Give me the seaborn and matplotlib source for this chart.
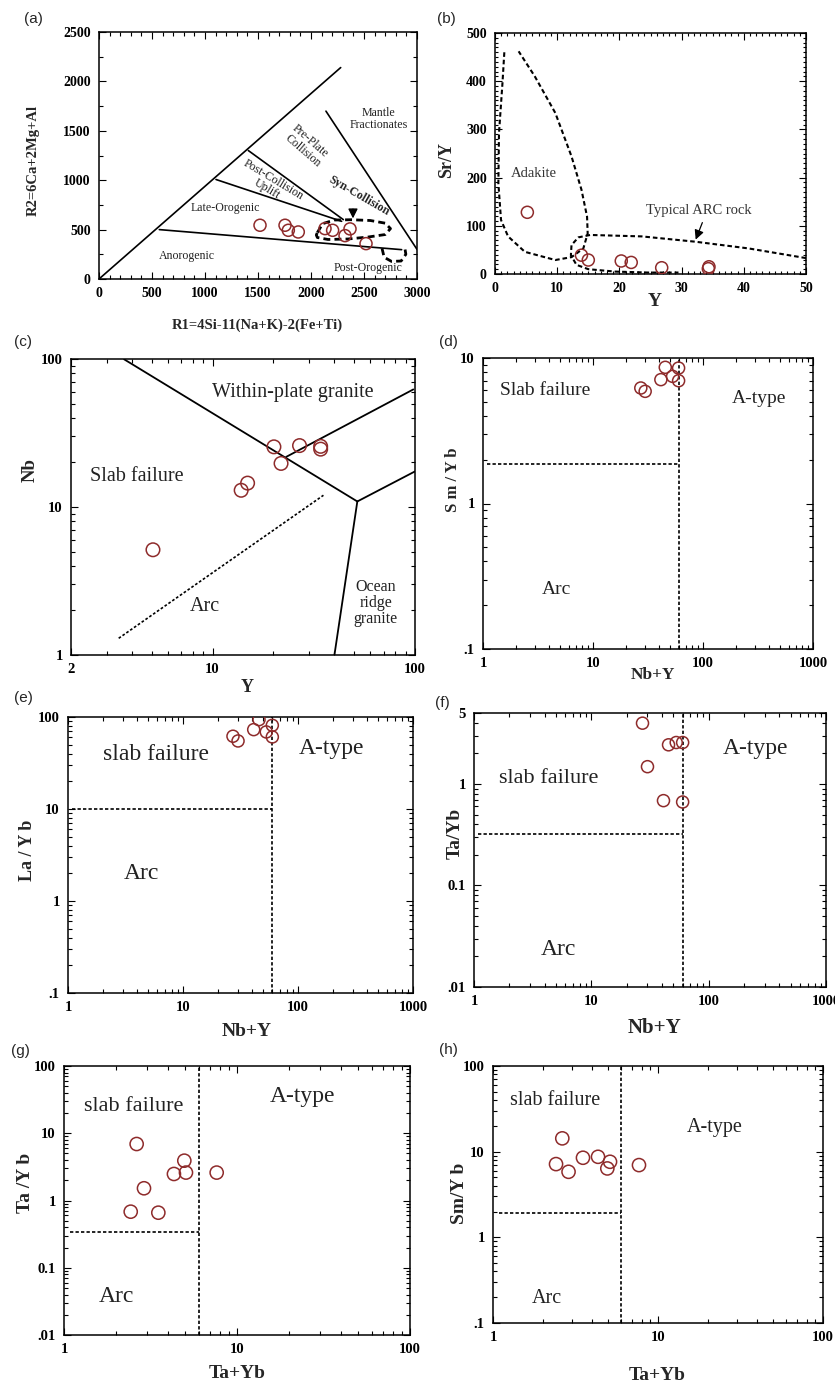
import numpy as np
import pandas as pd
import matplotlib
matplotlib.use("Agg")
import matplotlib.pyplot as plt
from matplotlib.ticker import MultipleLocator, LogLocator, NullFormatter
import seaborn as sns

# ---------------- data ----------------
# (a) R1-R2 diagram
a_r1 = [1519, 1755, 1786, 1880, 2132, 2204, 2368, 2321, 2519]
a_r2 = [544, 544, 493, 476, 510, 493, 507, 439, 358]
# (b) Y vs Sr/Y
b_y = [5.2, 13.9, 15.0, 20.3, 21.9, 26.8, 34.4, 34.3]
b_sry = [128, 39, 29, 27, 24, 13, 15, 11]
# (c) Y vs Nb
c_y = [5.08, 13.85, 14.9, 20.1, 21.8, 26.9, 34.2, 34.2]
c_nb = [5.14, 12.97, 14.5, 25.5, 19.7, 26.0, 25.7, 24.6]
# (d) Nb+Y vs Sm/Yb
d_nby = [27.2, 29.8, 45.4, 41.4, 52.9, 60, 60]
d_smyb = [6.22, 5.9, 8.63, 7.1, 7.48, 8.53, 6.98]
# (e) Nb+Y vs La/Yb
e_nby = [27.2, 30.1, 45.8, 41.2, 53, 59.8, 59.8]
e_layb = [61.8, 54.9, 93.6, 72.9, 68.8, 81.2, 60.7]
# (f) Nb+Y vs Ta/Yb
f_nby = [27.3, 30.1, 45.5, 52.9, 60, 41.2, 60]
f_tayb = [3.97, 1.48, 2.43, 2.56, 2.56, 0.685, 0.664]
# (g) Ta+Yb vs Ta/Yb
g_sum = [2.63, 2.9, 2.43, 3.51, 4.32, 4.96, 5.07, 7.63]
g_tayb = [6.92, 1.52, 0.682, 0.659, 2.48, 3.91, 2.6, 2.6]
# (h) Ta+Yb vs Sm/Yb
h_sum = [2.63, 2.41, 2.87, 3.51, 4.33, 5.12, 4.93, 7.67]
h_smyb = [14.3, 7.16, 5.82, 8.49, 8.71, 7.62, 6.37, 6.97]

# field boundaries (a)
a_bounds = [
    ([0, 2280], [0, 2140]),
    ([2141, 3000], [1699, 300]),
    ([569, 2855], [500, 297]),
    ([1104, 2289], [1007, 584]),
    ([1409, 2305], [1300, 601]),
]
a_syn_x = [2060, 2110, 2220, 2380, 2560, 2700, 2750, 2700, 2540, 2350, 2160, 2060, 2050, 2060]
a_syn_y = [470, 560, 597, 600, 592, 565, 510, 450, 425, 405, 400, 420, 445, 470]
a_post_x = [2670, 2690, 2760, 2850, 2895, 2885]
a_post_y = [310, 220, 178, 182, 250, 315]

# field boundaries (b)
b_adak_x = [1.5, 1.2, 0.64, 0.54, 0.97, 2.1, 4.8, 9.7, 12.3, 14.2, 14.9, 14.8, 13.9, 12.3, 9.7, 6.4, 3.8]
b_adak_y = [460, 396, 292, 188, 112, 78, 46, 29, 35, 53, 84, 119, 175, 244, 334, 410, 462]
b_arc_x = [50, 40.8, 32.2, 23.6, 15.3, 13.4, 12.3, 12.2, 13.1, 15.0, 19.3, 24.7, 29.5]
b_arc_y = [33, 53, 67, 78, 81, 76, 60, 39, 19, 10, 5, 3, 3]

# field boundaries (c)
c_bounds = [
    ([3.66, 51.9], [99.5, 10.9]),
    ([23.1, 98.1], [21.8, 62.3]),
    ([51.9, 100], [10.9, 17.4]),
    ([51.9, 40], [10.9, 1.0]),
]
c_arc_x = [3.44, 35.3]
c_arc_y = [1.297, 12.0]

# quadrant boundaries (x split, y split) for d-h
d_cut = (60, 1.87)
e_cut = (60, 10)
f_cut = (60, 0.321)
g_cut = (6.0, 0.336)
h_cut = (6.0, 1.9)

RED = "#8E2B2B"
W, H = 835, 1394

sns.set_style("ticks")
plt.rcParams["font.family"] = ["Liberation Serif", "DejaVu Serif"]
plt.rcParams["mathtext.fontset"] = "stix"

fig = plt.figure(figsize=(W / 100, H / 100), dpi=100)


def add_ax(l, r, t, b):
    return fig.add_axes([l / W, 1 - b / H, (r - l) / W, (b - t) / H])


def style(ax, lab_size):
    ax.tick_params(which="both", direction="in", top=True, right=True,
                   width=0.8, colors="black", labelsize=lab_size, pad=6)
    ax.tick_params(which="major", length=5)
    ax.tick_params(which="minor", length=3)
    for s in ax.spines.values():
        s.set_linewidth(1.1)
        s.set_color("black")
    for t in ax.get_xticklabels() + ax.get_yticklabels():
        t.set_fontweight("bold")
    ax.grid(False)


def labels(ax, box, xl, yl, xpos, ypos, xsize, ysize):
    l, r, t, b = box
    ax.set_xlabel(xl, fontsize=xsize, fontweight="bold")
    ax.set_ylabel(yl, fontsize=ysize, fontweight="bold")
    ax.xaxis.label.set_va("center")
    ax.yaxis.label.set_va("center")
    ax.xaxis.set_label_coords((xpos[0] - l) / (r - l), (b - xpos[1]) / (b - t))
    ax.yaxis.set_label_coords((ypos[0] - l) / (r - l), (b - ypos[1]) / (b - t))


def panel_tag(tag, x, y):
    fig.text(x / W, 1 - y / H, tag, fontsize=11, family="Liberation Sans",
             ha="center", va="center")


def circles(ax, x, y, s=80):
    sns.scatterplot(x=x, y=y, ax=ax, marker="o", s=s, facecolor="none",
                    edgecolor=RED, linewidth=1.1, legend=False, zorder=5)


def log_axes(ax, xlim, ylim, xt, xtl, yt, ytl):
    ax.set_xscale("log")
    ax.set_yscale("log")
    ax.set_xlim(*xlim)
    ax.set_ylim(*ylim)
    ax.set_xticks(xt, labels=xtl)
    ax.set_yticks(yt, labels=ytl)
    ax.xaxis.set_minor_locator(LogLocator(base=10, subs=np.arange(2, 10), numticks=20))
    ax.yaxis.set_minor_locator(LogLocator(base=10, subs=np.arange(2, 10), numticks=20))
    ax.xaxis.set_minor_formatter(NullFormatter())
    ax.yaxis.set_minor_formatter(NullFormatter())


def quadrant(ax, cut, xmin, ymin, ymax):
    xc, yc = cut
    ax.plot([xc, xc], [ymin, ymax], color="black", lw=1.2, ls=(0, (2, 1.3)))
    ax.plot([xmin * 1.08, xc], [yc, yc], color="black", lw=1.2, ls=(0, (2, 1.3)))


# ---------------- (a) ----------------
box = (99, 417, 32, 279)
ax = add_ax(*box)
for xs, ys in a_bounds:
    ax.plot(xs, ys, color="black", lw=1.2)
ax.plot(a_syn_x, a_syn_y, color="black", lw=2.0, ls=(0, (2.5, 1.5)))
ax.plot(a_post_x, a_post_y, color="black", lw=2.0, ls=(0, (2.5, 1.5)))
circles(ax, a_r1, a_r2, s=75)
ax.annotate("", xy=(2396, 585), xytext=(2396, 735),
            arrowprops=dict(arrowstyle="-|>", color="black", lw=1.0, mutation_scale=14))
ax.set_xlim(0, 3000)
ax.set_ylim(0, 2500)
ax.set_xticks([0, 500, 1000, 1500, 2000, 2500, 3000])
ax.set_yticks([0, 500, 1000, 1500, 2000, 2500])
ax.xaxis.set_minor_locator(MultipleLocator(100))
ax.yaxis.set_minor_locator(MultipleLocator(250))
ts = dict(fontsize=8.6, color="#222222", ha="center", va="center", rotation_mode="anchor")
ax.text(2635, 1615, "Mantle\nFractionates", linespacing=1.0, **ts)
ax.text(1959, 1345, "Pre-Plate\nCollision", rotation=-41, linespacing=1.0, **ts)
ax.text(1613, 956, "Post-Collision\nUplift", rotation=-31, linespacing=0.9, **ts)
ax.text(2447, 838, "Syn-Collision", rotation=-30, fontweight="bold", **ts)
ax.text(1189, 720, "Late-Orogenic", **ts)
ax.text(827, 236, "Anorogenic", **ts)
ax.text(2541, 111, "Post-Orogenic", **ts)
style(ax, 10)
labels(ax, box, "R1=4Si-11(Na+K)-2(Fe+Ti)", "R2=6Ca+2Mg+Al", (257, 325), (33, 160), 10.5, 10.5)
panel_tag("(a)", 33, 19)

# ---------------- (b) ----------------
box = (495, 806, 33, 274)
ax = add_ax(*box)
ax.plot(b_adak_x, b_adak_y, color="black", lw=1.5, ls=(0, (2.2, 1.4)))
ax.plot(b_arc_x, b_arc_y, color="black", lw=1.5, ls=(0, (2.2, 1.4)))
circles(ax, b_y, b_sry, s=75)
ax.annotate("", xy=(32.1, 66), xytext=(33.5, 112),
            arrowprops=dict(arrowstyle="-|>", color="black", lw=0.9, mutation_scale=14))
ax.text(6.2, 208, "Adakite", fontsize=10.5, color="#333333", ha="center", va="center")
ax.text(32.7, 132, "Typical ARC rock", fontsize=10.5, color="#333333", ha="center", va="center")
ax.set_xlim(0, 50)
ax.set_ylim(0, 500)
ax.set_xticks([0, 10, 20, 30, 40, 50])
ax.set_yticks([0, 100, 200, 300, 400, 500])
ax.xaxis.set_minor_locator(MultipleLocator(1))
ax.yaxis.set_minor_locator(MultipleLocator(10))
style(ax, 10)
ax.tick_params(which="minor", length=2.5)
labels(ax, box, "Y", "Sr/Y", (655, 302), (447, 160), 14, 13)
panel_tag("(b)", 446, 19)

# ---------------- (c) ----------------
box = (71, 415, 359, 655)
ax = add_ax(*box)
for xs, ys in c_bounds:
    ax.plot(xs, ys, color="black", lw=1.3)
ax.plot(c_arc_x, c_arc_y, color="black", lw=1.2, ls=(0, (1.6, 1.2)))
circles(ax, c_y, c_nb, s=95)
log_axes(ax, (2, 100), (1, 100), [2, 10, 100], ["2", "10", "100"], [1, 10, 100], ["1", "10", "100"])
ax.text(25, 59, "Within-plate granite", fontsize=14.5, ha="center", va="center", color="#222222")
ax.text(4.24, 16.1, "Slab failure", fontsize=14.5, ha="center", va="center", color="#222222")
ax.text(9.2, 2.12, "Arc", fontsize=14.5, ha="center", va="center", color="#222222")
ax.text(64, 2.24, "Ocean\nridge\ngranite", fontsize=11.5, ha="center", va="center",
        color="#222222", linespacing=1.0)
style(ax, 10.5)
labels(ax, box, "Y", "Nb", (247, 688), (30, 470), 13, 13.5)
panel_tag("(c)", 23, 342)

# ---------------- (d) ----------------
box = (483, 813, 358, 649)
ax = add_ax(*box)
quadrant(ax, d_cut, 1, 0.1, 10)
circles(ax, d_nby, d_smyb, s=75)
log_axes(ax, (1, 1000), (0.1, 10), [1, 10, 100, 1000], ["1", "10", "100", "1000"],
         [0.1, 1, 10], [".1", "1", "10"])
ax.text(3.65, 5.97, "Slab failure", fontsize=14, ha="center", va="center", color="#222222")
ax.text(322, 5.25, "A-type", fontsize=14, ha="center", va="center", color="#222222")
ax.text(4.66, 0.256, "Arc", fontsize=14, ha="center", va="center", color="#222222")
style(ax, 10.5)
labels(ax, box, "Nb+Y", "S m / Y b", (653, 675), (453, 480), 12.5, 12)
panel_tag("(d)", 448, 342)

# ---------------- (e) ----------------
box = (68, 413, 717, 993)
ax = add_ax(*box)
quadrant(ax, e_cut, 1, 0.1, 100)
circles(ax, e_nby, e_layb, s=75)
log_axes(ax, (1, 1000), (0.1, 100), [1, 10, 100, 1000], ["1", "10", "100", "1000"],
         [0.1, 1, 10, 100], [".1", "1", "10", "100"])
ax.text(5.87, 39.4, "slab failure", fontsize=17, ha="center", va="center", color="#222222")
ax.text(195, 45.4, "A-type", fontsize=17, ha="center", va="center", color="#222222")
ax.text(4.34, 2.0, "Arc", fontsize=17, ha="center", va="center", color="#222222")
style(ax, 10.5)
labels(ax, box, "Nb+Y", "La / Y b", (247, 1031), (27, 850), 14, 13)
panel_tag("(e)", 23, 698)

# ---------------- (f) ----------------
box = (474, 826, 713, 987)
ax = add_ax(*box)
quadrant(ax, f_cut, 1, 0.01, 5)
circles(ax, f_nby, f_tayb, s=75)
log_axes(ax, (1, 1000), (0.01, 5), [1, 10, 100, 1000], ["1", "10", "100", "1000"],
         [0.01, 0.1, 1, 5], [".01", "0.1", "1", "5"])
ax.text(4.29, 1.12, "slab failure", fontsize=16, ha="center", va="center", color="#222222")
ax.text(250, 2.25, "A-type", fontsize=17, ha="center", va="center", color="#222222")
ax.text(5.22, 0.0234, "Arc", fontsize=17, ha="center", va="center", color="#222222")
style(ax, 10.5)
labels(ax, box, "Nb+Y", "Ta/Yb", (655, 1028), (455, 833), 15, 14)
panel_tag("(f)", 442, 703)

# ---------------- (g) ----------------
box = (64, 410, 1066, 1335)
ax = add_ax(*box)
quadrant(ax, g_cut, 1, 0.01, 100)
circles(ax, g_sum, g_tayb, s=90)
log_axes(ax, (1, 100), (0.01, 100), [1, 10, 100], ["1", "10", "100"],
         [0.01, 0.1, 1, 10, 100], [".01", "0.1", "1", "10", "100"])
ax.text(2.52, 24.9, "slab failure", fontsize=16, ha="center", va="center", color="#222222")
ax.text(24, 35, "A-type", fontsize=17, ha="center", va="center", color="#222222")
ax.text(2.02, 0.037, "Arc", fontsize=17, ha="center", va="center", color="#222222")
style(ax, 10.5)
labels(ax, box, "Ta+Yb", "Ta /Y b", (237, 1373), (25, 1183), 14, 14)
panel_tag("(g)", 20, 1051)

# ---------------- (h) ----------------
box = (493, 823, 1066, 1323)
ax = add_ax(*box)
quadrant(ax, h_cut, 1, 0.1, 100)
circles(ax, h_sum, h_smyb, s=90)
log_axes(ax, (1, 100), (0.1, 100), [1, 10, 100], ["1", "10", "100"],
         [0.1, 1, 10, 100], [".1", "1", "10", "100"])
ax.text(2.39, 40, "slab failure", fontsize=14.5, ha="center", va="center", color="#222222")
ax.text(22, 19.2, "A-type", fontsize=14.5, ha="center", va="center", color="#222222")
ax.text(2.13, 0.193, "Arc", fontsize=14.5, ha="center", va="center", color="#222222")
style(ax, 10.5)
labels(ax, box, "Ta+Yb", "Sm/Y b", (657, 1375), (460, 1193), 14, 14)
panel_tag("(h)", 448, 1050)

fig.savefig("out.png", dpi=100, facecolor="white")
